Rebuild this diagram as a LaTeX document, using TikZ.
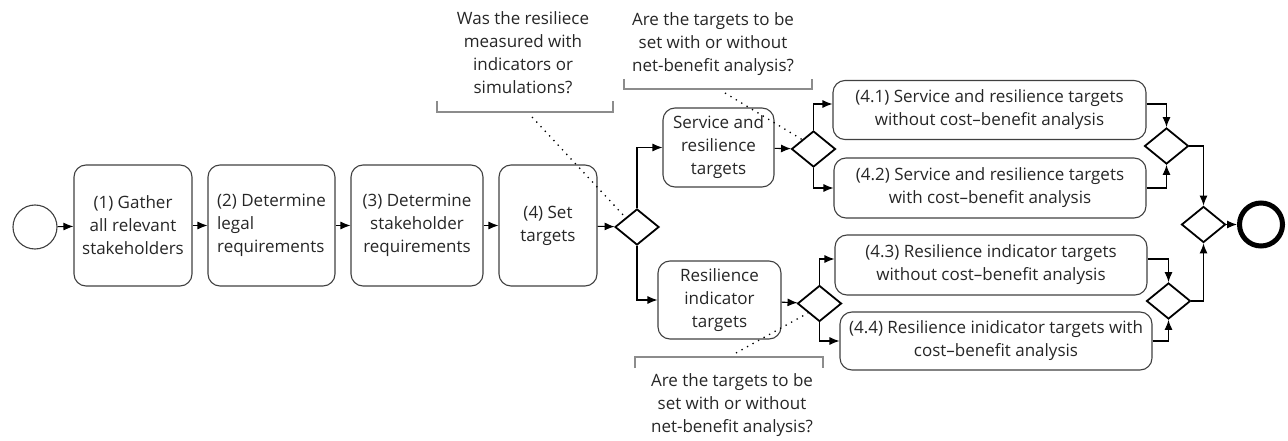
\documentclass[tikz,border=0pt]{standalone}
\usepackage{fontspec}
\setmainfont{Open Sans}
\usetikzlibrary{shapes.geometric,arrows.meta}

\tikzset{
  task/.style={draw=black!75, line width=1.1pt, rounded corners=12pt, align=center,
    inner sep=2pt, text=black!85, font=\fontsize{17}{23}\selectfont},
  gate/.style={draw, diamond, line width=1.8pt, inner sep=0pt,
    minimum width=44pt, minimum height=36pt},
  note/.style={align=center, text=black!85, font=\fontsize{17}{23}\selectfont},
  bracket/.style={draw=black!45, line width=1.6pt},
  hint/.style={dotted, line width=1.3pt, dash pattern=on 1.3pt off 5pt}
}

\begin{document}
\begin{tikzpicture}[x=1pt, y=-1pt, line width=1.1pt, >={Latex[length=10pt,width=8pt]}]
  \useasboundingbox (0,0) rectangle (1288,441);
  \node[circle, draw=black!75, minimum size=44pt, inner sep=0pt] (start) at (35,227) {};
  \node[task, minimum width=118pt, minimum height=121pt] (b1) at (133,225.5) {(1) Gather\\all relevant\\stakeholders};
  \node[task, minimum width=127pt, minimum height=121pt, align=left] (b2) at (271.5,225.5) {(2) Determine\\legal\\requirements};
  \node[task, minimum width=132pt, minimum height=121pt] (b3) at (417,225.5) {(3) Determine\\stakeholder\\requirements};
  \node[task, minimum width=98pt, minimum height=121pt] (b4) at (548,225.5) {(4) Set\\targets};
  \node[gate] (d1) at (637,227) {};
  \node[task, minimum width=111pt, minimum height=79pt] (svc) at (718.5,147.5) {Service and\\resilience\\targets};
  \node[task, minimum width=123pt, minimum height=78pt] (rind) at (719.5,300) {Resilience\\indicator\\targets};
  \node[gate] (d2) at (813.5,149) {};
  \node[gate] (d3) at (819.5,303.5) {};
  \node[task, minimum width=313pt, minimum height=59pt] (b41) at (989.5,110) {(4.1) Service and resilience targets\\without cost--benefit analysis};
  \node[task, minimum width=312pt, minimum height=60pt] (b42) at (990,188) {(4.2) Service and resilience targets\\with cost--benefit analysis};
  \node[task, minimum width=312pt, minimum height=60pt] (b43) at (991,265) {(4.3) Resilience indicator targets\\without cost--benefit analysis};
  \node[task, minimum width=312pt, minimum height=58pt] (b44) at (996,341) {(4.4) Resilience inidicator targets with\\cost--benefit analysis};
  \node[gate] (j1) at (1166.5,146) {};
  \node[gate] (j2) at (1168.5,301) {};
  \node[gate] (jf) at (1203.5,224.5) {};
  \node[circle, draw, line width=5pt, minimum size=43pt, inner sep=0pt] (end) at (1261,224.5) {};

  % annotations
  \node[note] (n1) at (523,53) {Was the resiliece\\measured with\\indicators or\\simulations?};
  \node[note] (n2) at (713,44) {Are the targets to be\\set with or without\\net-benefit analysis?};
  \node[note] (n3) at (732,405) {Are the targets to be\\set with or without\\net-benefit analysis?};
  \draw[bracket] (437,101) -- (437,112) -- (613,112) -- (613,101);
  \draw[bracket] (624,79) -- (624,89) -- (812,89) -- (812,79);
  \draw[bracket] (635,368) -- (635,357) -- (823,357) -- (823,368);
  \coordinate (q1) at (532,117);
  \coordinate (q2) at (725,93);
  \coordinate (q3) at (736,353);
  \draw[hint] (q1) -- (d1.north west);
  \draw[hint] (q2) -- (d2.north west);
  \draw[hint] (q3) -- (d3.south west);

  % flow
  \draw [->] (start) -- (b1);
  \draw [->] (b1) -- (b2);
  \draw [->] (b2) -- (b3);
  \draw [->] (b3) -- (b4);
  \draw [->] (b4) -- (d1);
  \draw [->] (d1.north) |- (svc.west);
  \draw [->] (d1.south) |- (rind.west);
  \draw [->] (svc) -- (d2);
  \draw [->] (rind) -- (d3);
  \draw [->] (d2.north) |- ([yshift=6pt]b41.west);
  \draw [->] (d2.south) |- (b42.west);
  \draw [->] (d3.north) |- ([yshift=6pt]b43.west);
  \draw [->] (d3.south) |- (b44.west);
  \draw [->] ([yshift=6pt]b41.east) -| (j1.north);
  \draw [->] (b42.east) -| (j1.south);
  \draw [->] ([yshift=6pt]b43.east) -| (j2.north);
  \draw [->] (b44.east) -| (j2.south);
  \draw [->] (j1.east) -| (jf.north);
  \draw [->] (j2.east) -| (jf.south);
  \draw [->] (jf) -- (end);
\end{tikzpicture}
\end{document}
